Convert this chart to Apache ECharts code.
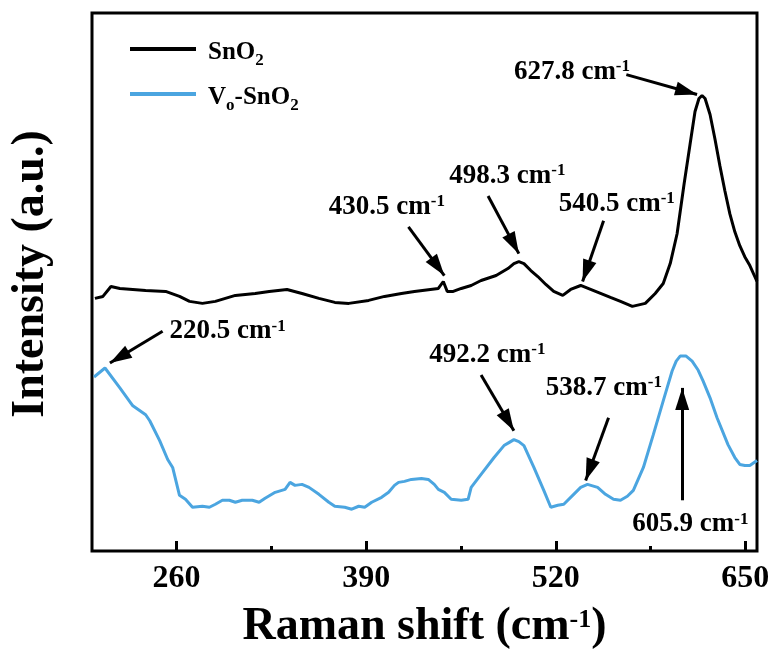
<!DOCTYPE html>
<html><head><meta charset="utf-8">
<script src="https://cdn.jsdelivr.net/npm/echarts@6/dist/echarts.min.js"></script>
<style>html,body{margin:0;padding:0;background:#fff}#c{width:775px;height:655px}</style>
</head><body><div id="c"></div>
<script>
// ---- axis ranges / ticks ----
const xMin = 202, xMax = 658;
const yMin = 0, yMax = 541;
const majorTicks = [260, 390, 520, 650];
const minorTicks = [325, 455, 585];

// ---- SnO2 (black) ----
const snX = [204.0,209.5,215.0,221.1,238.8,252.5,262.0,268.9,277.7,286.6,300.3,313.9,323.5,335.7,346.0,357.6,368.5,378.1,391.7,402.6,414.2,423.1,439.5,442.9,445.6,449.7,455.2,462.0,468.8,479.1,487.2,491.3,494.7,498.2,502.9,507.7,513.2,518.6,524.8,530.2,537.1,543.9,550.7,557.5,564.4,572.5,581.4,588.2,593.7,598.5,603.2,608.0,612.1,615.5,618.2,620.3,622.4,625.8,629.2,632.6,636.0,639.4,642.8,646.2,649.6,653.1,658.0];
const snY = [254,256,266,264,262,261,256,251,249,251,257,259,261,263,259,254,250,249,252,256,259,261,264,271,261,261,264,267,272,277,284,289,291,289,282,276,268,261,257,263,267,263,259,255,251,246,249,259,269,289,319,369,409,442,455,458,455,439,414,387,362,339,321,307,296,287,271];

// ---- Vo-SnO2 (blue) ----
const voX = [203.4,210.9,221.1,230.0,238.8,241.6,248.4,253.9,257.3,262.0,266.1,270.9,277.7,282.5,286.6,291.4,296.2,300.3,305.0,311.9,316.6,320.7,327.6,334.4,337.8,341.2,346.0,350.8,357.6,364.4,368.5,375.3,380.1,384.9,389.0,393.8,400.6,405.4,409.4,412.2,416.3,421.0,427.9,432.6,436.7,439.5,443.6,448.3,455.2,459.9,462.0,468.8,477.7,484.5,487.9,491.3,494.7,498.2,505.0,511.8,516.6,521.4,525.5,532.3,537.1,541.8,548.7,554.1,559.6,564.4,569.1,573.2,580.1,586.9,593.7,599.8,602.6,605.3,609.4,613.5,617.6,621.0,625.8,630.6,638.1,642.8,646.2,649.7,653.1,658.0];
const voY = [175,184,164,146,137,131,111,92,84,56,52,44,45,44,47,51,51,49,51,51,49,53,59,62,69,66,67,64,57,49,45,44,42,45,44,49,54,59,66,69,70,72,73,72,67,62,59,52,51,52,64,77,94,106,109,112,110,106,84,61,44,46,47,57,64,67,64,57,52,51,55,61,84,117,151,181,191,196,196,191,182,171,154,134,107,94,87,86,86,91];

// ---- peak annotations ----
const annLabels = ['627.8','430.5','498.3','540.5','220.5','492.2','538.7','605.9'];
const annTextX  = [491.3, 364.4, 447.0, 522.0, 255.2, 433.3, 513.2, 572.5];
const annTextY  = [482, 346, 377, 349, 221, 197, 164, 27];
const arrFromX  = [568.4, 419.0, 473.6, 552.8, 250.4, 468.8, 556.2, 606.7];
const arrFromY  = [479, 326, 357, 332, 221, 177, 134, 51];
const arrToX    = [616.9, 443.6, 494.7, 538.4, 214.3, 491.3, 540.5, 606.7];
const arrToY    = [459, 277, 299, 271, 189, 121, 71, 164];

const FONT = "'Liberation Serif','Times New Roman',serif";
const zip = (a, b) => a.map((v, i) => [v, b[i]]);

const legendNames = { 'SnO2': '{m|SnO}{s|2}', 'Vo-SnO2': '{m|V}{s|o}{m|-SnO}{s|2}' };

const option = {
  animation: false,
  backgroundColor: '#fff',
  grid: { left: 89, right: 18, top: 13, bottom: 101, show: true, borderColor: '#000', borderWidth: 3, backgroundColor: 'transparent' },
  legend: {
    left: 130, top: 32, orient: 'vertical', padding: 0, itemGap: 8,
    itemWidth: 66, itemHeight: 4, icon: 'rect',
    data: ['SnO2', 'Vo-SnO2'],
    formatter: n => legendNames[n],
    textStyle: {
      padding: [0, 0, 0, 7],
      rich: {
        m: { fontFamily: FONT, fontWeight: 'bold', fontSize: 25, color: '#000', lineHeight: 34, verticalAlign: 'top', padding: [8, 0, 0, 0] },
        s: { fontFamily: FONT, fontWeight: 'bold', fontSize: 17, color: '#000', lineHeight: 34, verticalAlign: 'top', padding: [20, 0, 0, 0] }
      }
    }
  },
  xAxis: [{
    type: 'value', min: xMin, max: xMax, position: 'bottom',
    name: '{m|Raman shift (cm}{s|-1}{m|)}', nameLocation: 'middle', nameGap: 53,
    nameTextStyle: {
      rich: {
        m: { fontFamily: FONT, fontWeight: 'bold', fontSize: 46, color: '#000', lineHeight: 46, verticalAlign: 'top' },
        s: { fontFamily: FONT, fontWeight: 'bold', fontSize: 26, color: '#000', lineHeight: 46, verticalAlign: 'top', padding: [3, 0, 0, 0] }
      }
    },
    axisLine: { show: false },
    splitLine: { show: false },
    axisTick: { show: true, inside: true, length: 10, customValues: majorTicks, lineStyle: { color: '#000', width: 3 } },
    axisLabel: { customValues: majorTicks, margin: 12, fontFamily: FONT, fontWeight: 'bold', fontSize: 32, color: '#000' }
  }, {
    type: 'value', min: xMin, max: xMax, position: 'bottom',
    axisLine: { show: false }, splitLine: { show: false },
    axisTick: { show: true, inside: true, length: 5, customValues: minorTicks, lineStyle: { color: '#000', width: 3 } },
    axisLabel: { show: false }
  }],
  yAxis: {
    type: 'value', min: yMin, max: yMax,
    name: 'Intensity (a.u.)', nameLocation: 'middle', nameGap: 38, nameRotate: 90,
    nameTextStyle: { fontFamily: FONT, fontWeight: 'bold', fontSize: 46, color: '#000', lineHeight: 46, padding: [0, 0, 0, 16] },
    axisLine: { show: false }, axisTick: { show: false }, axisLabel: { show: false }, splitLine: { show: false }
  },
  series: [{
    name: 'SnO2', type: 'line', data: zip(snX, snY), showSymbol: false, symbol: 'none',
    color: '#000', lineStyle: { color: '#000', width: 3 }, silent: true
  }, {
    name: 'Vo-SnO2', type: 'line', data: zip(voX, voY), showSymbol: false, symbol: 'none',
    color: '#4ba5e0', lineStyle: { color: '#4ba5e0', width: 3 }, silent: true
  }, {
    name: 'annotations', type: 'scatter', symbolSize: 0, silent: true,
    itemStyle: { opacity: 1, color: '#000' },
    data: annLabels.map((t, i) => [annTextX[i], annTextY[i], t]),
    label: {
      show: true, position: 'right', distance: 0, color: '#000', opacity: 1,
      formatter: p => '{m|' + p.data[2] + ' cm}{s|-1}',
      rich: {
        m: { fontFamily: FONT, fontWeight: 'bold', fontSize: 27, color: '#000', lineHeight: 27, verticalAlign: 'top' },
        s: { fontFamily: FONT, fontWeight: 'bold', fontSize: 17, color: '#000', lineHeight: 27, verticalAlign: 'top' }
      }
    },
    markLine: {
      silent: true, animation: false,
      label: { show: false },
      lineStyle: { color: '#000', width: 3, type: 'solid', opacity: 1 },
      emphasis: { disabled: true },
      data: annLabels.map((t, i) => [
        { coord: [arrFromX[i], arrFromY[i]], symbol: 'none' },
        { coord: [arrToX[i], arrToY[i]], symbol: 'triangle', symbolSize: [14, 22], symbolOffset: [0, 11] }
      ])
    }
  }]
};
const chart = echarts.init(document.getElementById('c'));
chart.setOption(option);
</script></body></html>
